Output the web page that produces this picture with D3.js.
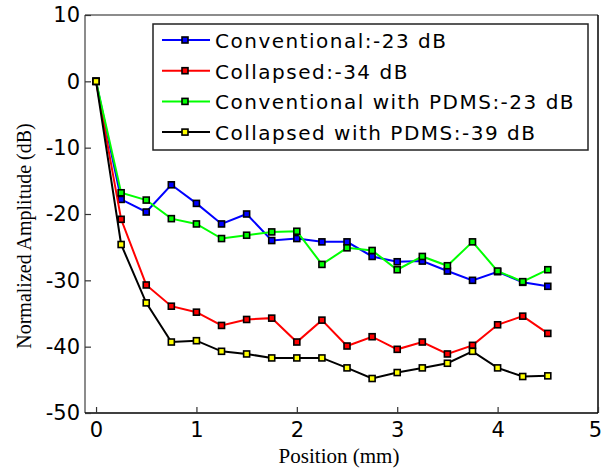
<!DOCTYPE html>
<html>
<head>
<meta charset="utf-8">
<script src="https://cdn.jsdelivr.net/npm/d3@7"></script>
<style>
  body { margin: 0; background: #fff; }
  svg { display: block; }
</style>
</head>
<body>
<div id="chart"></div>
<script>
const positions = [0, 0.25, 0.5, 0.75, 1, 1.25, 1.5, 1.75, 2, 2.25, 2.5, 2.75, 3, 3.25, 3.5, 3.75, 4, 4.25, 4.5]
const conventional = [0, -17.8, -19.7, -15.6, -18.4, -21.5, -20.0, -24.0, -23.7, -24.2, -24.2, -26.4, -27.2, -27.1, -28.6, -30.0, -28.7, -30.3, -30.9]
const collapsed = [0, -20.8, -30.7, -33.9, -34.8, -36.8, -35.9, -35.7, -39.3, -36.0, -39.9, -38.5, -40.4, -39.3, -41.1, -39.8, -36.7, -35.4, -38.0]
const conventionalPdms = [0, -16.8, -17.9, -20.7, -21.5, -23.7, -23.2, -22.7, -22.6, -27.6, -25.1, -25.5, -28.4, -26.4, -27.8, -24.2, -28.6, -30.2, -28.4]
const collapsedPdms = [0, -24.6, -33.4, -39.3, -39.1, -40.7, -41.1, -41.7, -41.7, -41.7, -43.2, -44.8, -43.9, -43.2, -42.5, -40.7, -43.2, -44.5, -44.4]
const seriesNames = ['Conventional:-23 dB', 'Collapsed:-34 dB', 'Conventional with PDMS:-23 dB', 'Collapsed with PDMS:-39 dB']
const xTicks = [0, 1, 2, 3, 4, 5]
const yTicks = [-50, -40, -30, -20, -10, 0, 10]

const series = [
  { name: seriesNames[0], values: conventional, line: '#0000ff', fill: '#0000ff' },
  { name: seriesNames[1], values: collapsed, line: '#ff0000', fill: '#ff0000' },
  { name: seriesNames[2], values: conventionalPdms, line: '#00ff00', fill: '#00ff00' },
  { name: seriesNames[3], values: collapsedPdms, line: '#000000', fill: '#ffff00' }
]

const margin = { top: 15, left: 85, right: 5, bottom: 57 }
const width = 603 - margin.left - margin.right
const height = 470 - margin.top - margin.bottom

// plain hyphen instead of the unicode minus
const fmt = v => String(v)

const svg = d3
  .select('#chart')
  .append('svg')
  .attr('width', 603)
  .attr('height', 470)

const g = svg.append('g').attr('transform', `translate(${margin.left},${margin.top})`)

const x = d3.scaleLinear().domain([-0.11, 5]).range([0, width])
const y = d3.scaleLinear().domain([-50, 10]).range([height, 0])

// frame
g.append('line').attr('x1', 0).attr('x2', width).attr('y1', 0).attr('y2', 0).attr('stroke', '#666').attr('stroke-width', 1.5)
g.append('line').attr('x1', 0).attr('x2', 0).attr('y1', 0).attr('y2', height).attr('stroke', '#666').attr('stroke-width', 1.5)
g.append('line').attr('x1', 0).attr('x2', width).attr('y1', height).attr('y2', height).attr('stroke', '#000').attr('stroke-width', 1.5)
g.append('line').attr('x1', width).attr('x2', width).attr('y1', 0).attr('y2', height).attr('stroke', '#000').attr('stroke-width', 1.5)

// axes with inward ticks
const xAxis = g.append('g')
  .attr('transform', `translate(0,${height})`)
  .call(d3.axisBottom(x).tickValues(xTicks).tickFormat(fmt).tickSizeInner(-6).tickSizeOuter(0).tickPadding(9))
xAxis.select('.domain').remove()

const yAxis = g.append('g')
  .call(d3.axisLeft(y).tickValues(yTicks).tickFormat(fmt).tickSizeInner(-6).tickSizeOuter(0).tickPadding(5))
yAxis.select('.domain').remove()

g.selectAll('.tick line').attr('stroke', '#333').attr('stroke-width', 1.2)
g.selectAll('.tick text')
  .attr('font-family', 'DejaVu Sans, Verdana, sans-serif')
  .attr('font-size', 21)
  .attr('fill', '#000')

// keep the last x label inside the window
xAxis.selectAll('.tick text').filter(d => d === 5).attr('dx', -3)

// axis titles
svg.append('text')
  .attr('x', 339)
  .attr('y', 463)
  .attr('text-anchor', 'middle')
  .attr('font-family', 'Liberation Serif, Times New Roman, serif')
  .attr('font-size', 21)
  .text('Position (mm)')

svg.append('text')
  .attr('transform', 'translate(31,236) rotate(-90)')
  .attr('text-anchor', 'middle')
  .attr('font-family', 'Liberation Serif, Times New Roman, serif')
  .attr('font-size', 20)
  .text('Normalized Amplitude (dB)')

// lines and markers
const line = d3.line()
  .x((d, i) => x(positions[i]))
  .y(d => y(d))

series.forEach(s => {
  g.append('path')
    .datum(s.values)
    .attr('fill', 'none')
    .attr('stroke', s.line)
    .attr('stroke-width', 2)
    .attr('d', line)

  g.selectAll(null)
    .data(s.values)
    .enter()
    .append('rect')
    .attr('x', (d, i) => x(positions[i]) - 3)
    .attr('y', d => y(d) - 3)
    .attr('width', 6)
    .attr('height', 6)
    .attr('fill', s.fill)
    .attr('stroke', '#000')
    .attr('stroke-width', 1.6)
})

// legend
const legend = svg.append('g').attr('transform', 'translate(153,24)')
legend.append('rect')
  .attr('width', 435)
  .attr('height', 126)
  .attr('fill', '#fff')
  .attr('stroke', '#222')
  .attr('stroke-width', 1.5)

const rows = legend.selectAll('.row')
  .data(series)
  .enter()
  .append('g')
  .attr('class', 'row')
  .attr('transform', (d, i) => `translate(0,${16 + i * 30.7})`)

rows.append('line')
  .attr('x1', 9).attr('x2', 57)
  .attr('stroke', d => d.line)
  .attr('stroke-width', 2)
rows.append('rect')
  .attr('x', 29).attr('y', -3)
  .attr('width', 6).attr('height', 6)
  .attr('fill', d => d.fill)
  .attr('stroke', '#000')
  .attr('stroke-width', 1.6)
rows.append('text')
  .attr('x', 62)
  .attr('y', 8)
  .attr('font-family', 'DejaVu Sans, Verdana, sans-serif')
  .attr('font-size', 20)
  .attr('letter-spacing', 1.5)
  .text(d => d.name)
</script>
</body>
</html>
